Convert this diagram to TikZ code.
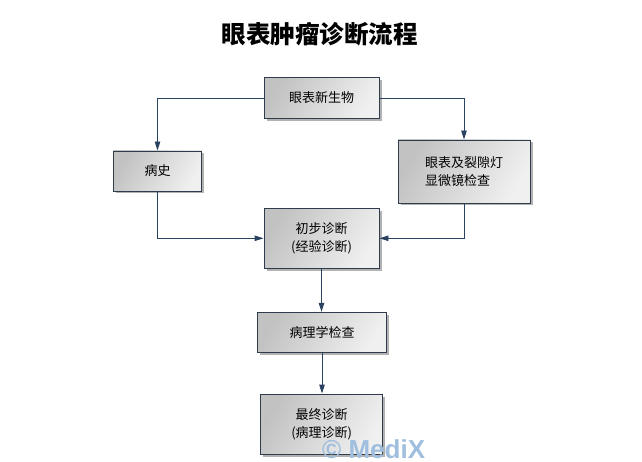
\documentclass[tikz,border=0pt]{standalone}
\usepackage{fontspec}
\usepackage{tikz}
\usetikzlibrary{arrows.meta,shadows}
\newfontfamily\cjk{Noto Sans CJK SC}
\setsansfont{Liberation Sans}
\definecolor{boxline}{RGB}{46,60,78}
\definecolor{arrowline}{RGB}{40,66,96}
\definecolor{markblue}{RGB}{160,190,222}
\tikzset{
	flowbox/.style={draw=boxline, line width=0.9pt, left color=black!24, right color=black!6, shading angle=60,
		drop shadow={shadow xshift=2.5pt, shadow yshift=-2.5pt, fill=black, opacity=0.3},
		font=\cjk\fontsize{13}{18}\selectfont, inner sep=0pt, align=center},
	flowarrow/.style={draw=arrowline, line width=0.9pt, -{Triangle[length=9pt,width=5.5pt]}}
}

\begin{document}
\begin{tikzpicture}[x=1pt, y=-1pt]
			%%%%% START %%%%%
			
			\useasboundingbox (0, 0) rectangle (642, 462);
			
			\node[font=\cjk\bfseries\fontsize{24.5}{27}\selectfont] (title) at (319.5, 34.5) {眼表肿瘤诊断流程};
			
			\node[flowbox, minimum width=115pt, minimum height=41pt] (neo) at (321.5, 98) {眼表新生物};
			\node[flowbox, minimum width=88.5pt, minimum height=40pt] (hist) at (157.5, 171) {病史};
			\node[flowbox, minimum width=132pt, minimum height=63pt, align=left] (slit) at (464, 171.5) {眼表及裂隙灯\\显微镜检查};
			\node[flowbox, minimum width=115pt, minimum height=60pt] (prelim) at (321.5, 238.3) {初步诊断\\(经验诊断)};
			\node[flowbox, minimum width=129.5pt, minimum height=40pt] (patho) at (322, 332.3) {病理学检查};
			\node[flowbox, minimum width=122pt, minimum height=60pt] (final) at (321.7, 424) {最终诊断\\(病理诊断)};
			
			\draw[flowarrow] (neo.west) -| (hist.north);
			\draw[flowarrow] (neo.east) -| (slit.north);
			\draw[flowarrow] (hist.south) |- (prelim.west);
			\draw[flowarrow] (slit.south) |- (prelim.east);
			\draw[flowarrow] (prelim.south) -- (prelim.south |- patho.north);
			\draw[flowarrow] (patho.south) -- (patho.south |- final.north);
			
			\node[anchor=base west, inner sep=0pt, text=markblue, font=\sffamily\bfseries\fontsize{26}{26}\selectfont] (mark) at (322, 458) {© MediX};
			
			%%%%% END %%%%%
\end{tikzpicture}
\end{document}
